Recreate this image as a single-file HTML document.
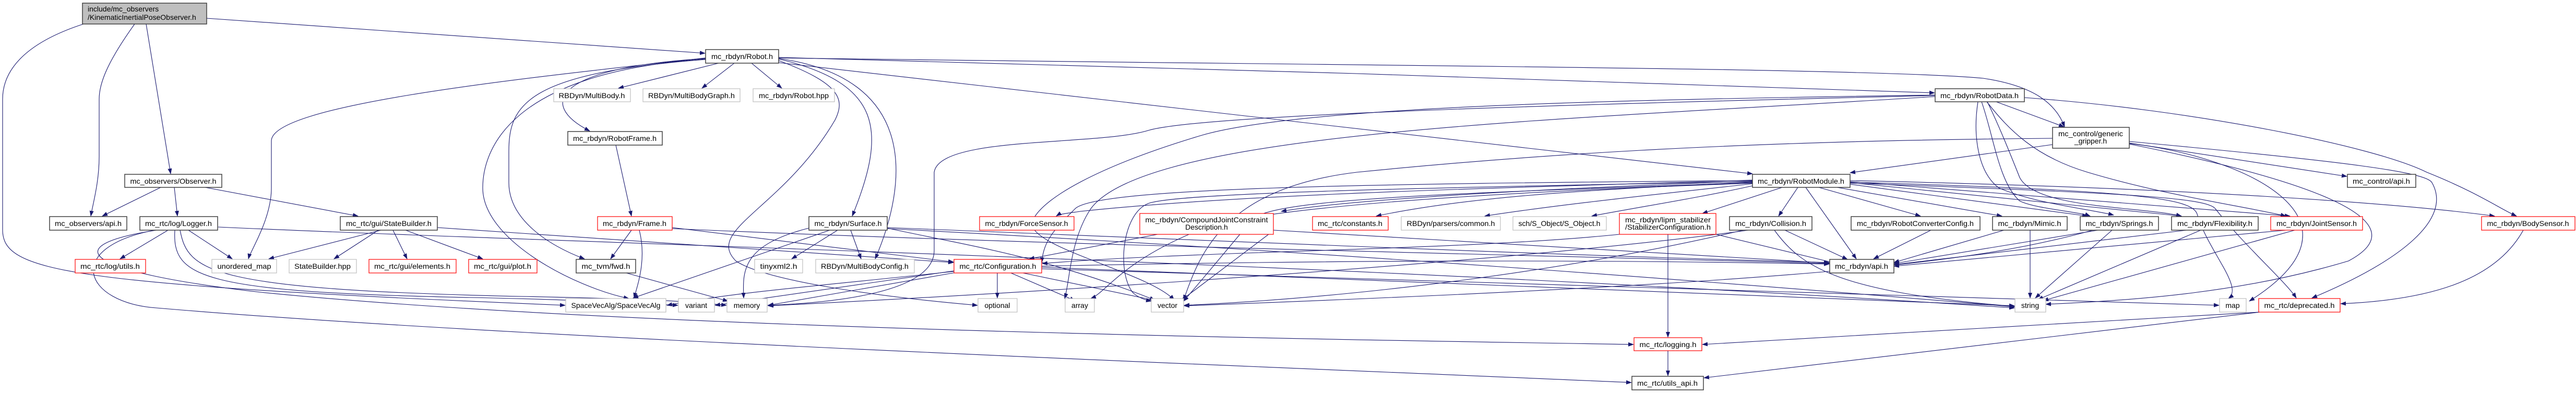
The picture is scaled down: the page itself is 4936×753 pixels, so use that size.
<!DOCTYPE html>
<html><head><meta charset="utf-8"><style>
html,body{margin:0;padding:0;background:#fff;}
svg{display:block;}
text{font-family:"Liberation Sans","DejaVu Sans",sans-serif;font-size:14px;fill:#000;}
.e{fill:none;stroke:#191970;stroke-width:1.1;}
.b{fill:#fff;stroke:#404040;stroke-width:1.5;}
.g{fill:#fff;stroke:#bfbfbf;stroke-width:1.2;}
.r{fill:#fff;stroke:#ff0000;stroke-width:1.2;}
</style></head><body>
<svg width="4936" height="753" viewBox="0 0 4936 753" xmlns="http://www.w3.org/2000/svg">
<defs><marker id="a" markerWidth="11" markerHeight="8" refX="10" refY="4" orient="auto" markerUnits="userSpaceOnUse"><path d="M0,0 L11,4 L0,8 z" fill="#191970"/></marker></defs>
<g class="e" marker-end="url(#a)">
<!-- main -->
<path d="M258,46 C205,120 190,160 190,190 L190,300 C190,350 178,390 174,414"/>
<path d="M280,46 L327,333"/>
<path d="M396,35 L1351,102"/>
<path d="M160,46 C40,85 5,140 5,190 L5,440 C5,520 120,545 1083,585"/>
<!-- observer -->
<path d="M308,359 L196,414"/>
<path d="M334,359 L340,414"/>
<path d="M393,359 L686,414"/>
<!-- logger -->
<path d="M322,441 L230,496"/>
<path d="M361,441 L445,496"/>
<path d="M345,441 C360,520 400,555 1000,568 C1200,572 1300,575 1392,585"/>
<path d="M335,441 C330,530 380,560 900,570 C1100,574 1200,580 1299,585"/>
<path d="M418,435 C1200,470 2500,500 3860,590"/>
<path d="M300,441 C110,470 150,520 500,560 C1200,630 2500,650 3130,660"/>
<path d="M296,441 C120,475 160,580 300,590 C1000,650 2500,705 3126,733"/>
<!-- statebuilder -->
<path d="M730,441 L515,496"/>
<path d="M725,441 L640,496"/>
<path d="M753,441 L780,496"/>
<path d="M777,441 L925,496"/>
<path d="M838,436 L1827,503"/>
<!-- robot.h -->
<path d="M1377,121 L1185,169"/>
<path d="M1407,121 L1345,169"/>
<path d="M1440,121 L1498,169"/>
<path d="M1352,112 C1060,130 1030,200 1130,251"/>
<path d="M1352,111 C1000,150 520,200 520,270 L520,360 C520,420 480,480 476,496"/>
<path d="M1352,114 C1010,140 975,200 975,290 L975,350 C975,420 1050,470 1120,496"/>
<path d="M1352,113 C960,140 925,300 925,360 C925,460 1100,550 1205,572"/>
<path d="M1492,113 C1690,160 1700,250 1633,414"/>
<path d="M1492,112 C1760,150 1740,350 1677,496"/>
<path d="M1492,116 C1610,160 1620,190 1600,230 C1500,400 1350,440 1410,500 C1470,540 1700,570 1873,585"/>
<path d="M1492,110 C2200,130 3000,150 3707,178"/>
<path d="M1492,111 C2500,125 3600,130 3800,150 C3900,165 3940,200 3956,243"/>
<path d="M1492,120 L3358,333"/>
<!-- robotframe/frame -->
<path d="M1180,278 L1210,414"/>
<path d="M1210,441 L1170,496"/>
<path d="M1225,441 C1240,500 1220,550 1215,571"/>
<path d="M1288,436 L1827,502"/>
<path d="M1288,438 C2000,470 3000,490 3505,505"/>
<path d="M1200,523 L1395,577"/>
<!-- surface -->
<path d="M1605,441 L1517,496"/>
<path d="M1630,441 L1650,496"/>
<path d="M1590,441 L1213,571"/>
<path d="M1550,437 C1420,470 1423,520 1425,571"/>
<path d="M1700,437 C1850,470 2000,490 2213,575"/>
<path d="M1700,436 C2300,460 3000,490 3505,503"/>
<path d="M1700,438 C2500,480 3300,540 3860,588"/>
<!-- configuration -->
<path d="M1911,523 L1911,571"/>
<path d="M1937,523 L2060,576"/>
<path d="M1960,523 L2215,576"/>
<path d="M1832,522 L1472,585"/>
<path d="M1828,519 L1370,585"/>
<path d="M1828,520 C1600,545 1400,560 1278,585"/>
<path d="M1996,512 C2800,540 3500,570 3860,586"/>
<path d="M1996,515 C3000,550 3800,570 4252,585"/>
<path d="M1996,510 C2700,495 3200,500 3505,506"/>
<!-- compound -->
<path d="M2218,449 L1972,496"/>
<path d="M2440,442 L2264,575"/>
<path d="M2440,441 C2900,470 3300,495 3505,504"/>
<!-- robotmodule -->
<path d="M3358,345 C2900,360 2400,370 2070,405 C2050,408 2030,410 2024,414"/>
<path d="M3358,347 C3000,360 2600,380 2455,405"/>
<path d="M3358,349 C3000,365 2800,380 2637,414"/>
<path d="M3358,352 C3200,370 3000,390 2845,414"/>
<path d="M3358,356 C3250,380 3150,395 3050,414"/>
<path d="M3415,359 L3262,409"/>
<path d="M3445,359 L3408,414"/>
<path d="M3460,359 L3557,496"/>
<path d="M3485,359 L3680,414"/>
<path d="M3520,359 L3836,414"/>
<path d="M3545,353 L4000,414"/>
<path d="M3545,350 L4180,414"/>
<path d="M3545,348 L4388,414"/>
<path d="M3545,346 C4200,360 4600,390 4780,414"/>
<path d="M3545,351 C4100,370 4230,380 4245,400 C4300,470 4380,540 4400,571"/>
<path d="M3545,349 C4100,365 4200,380 4210,410 C4230,480 4300,550 4270,572"/>
<path d="M3358,350 C2800,370 2440,380 2400,420 C2350,480 2300,540 2268,577"/>
<path d="M3358,351 C2800,370 2400,400 2300,440 C2150,500 2120,560 2090,572"/>
<path d="M3358,348 C2700,360 2250,370 2200,390 C2150,410 2140,520 2170,560 C2180,570 2195,575 2206,577"/>
<path d="M3358,346 C2600,352 2100,360 2060,400 C2020,440 2000,460 1996,503"/>
<!-- lipm -->
<path d="M3196,449 L3196,646"/>
<path d="M3288,449 L3520,505"/>
<path d="M3103,449 C2800,480 2300,480 1997,505"/>
<!-- collision -->
<path d="M3420,441 L3540,497"/>
<path d="M3400,441 C3450,510 3520,560 3860,587"/>
<path d="M3340,441 C3000,520 2600,570 2269,585"/>
<path d="M3350,441 C3000,490 2200,550 1472,586"/>
<!-- converter, mimic, springs, flex, joint -->
<path d="M3700,441 L3590,496"/>
<path d="M3890,441 L3890,571"/>
<path d="M3840,441 L3629,503"/>
<path d="M4047,441 L3900,571"/>
<path d="M4020,441 L3629,505"/>
<path d="M4010,441 C3800,500 3500,540 2269,586"/>
<path d="M4217,441 L3905,574"/>
<path d="M4190,441 L3629,507"/>
<path d="M4397,441 L3915,576"/>
<path d="M4380,441 L3629,510"/>
<path d="M4835,441 C4780,540 4650,575 4485,582"/>
<!-- robotdata -->
<path d="M3825,195 L3955,243"/>
<path d="M3797,195 C3820,260 3830,350 3870,385 C3900,400 3980,405 4005,414"/>
<path d="M3808,195 C3830,240 3850,290 3870,340 C3900,400 4100,395 4180,414"/>
<path d="M3790,195 C3780,260 3790,330 3830,360 C3900,390 4000,400 4050,412"/>
<path d="M3807,195 C3850,250 3900,300 4000,330 C4150,375 4300,395 4380,414"/>
<path d="M3879,187 C4200,210 4550,280 4650,330 C4750,370 4790,400 4822,414"/>
<path d="M3708,183 C3000,200 2300,220 2200,250 C2100,280 1800,260 1790,330 L1790,480 C1790,560 1600,580 1471,585"/>
<path d="M3708,182 C3200,190 2500,200 2300,260 C2100,320 2000,380 1980,420 C1950,470 2200,520 2250,575"/>
<path d="M3708,185 C3000,230 2200,250 2090,400 C2050,460 2050,540 2040,572"/>
<!-- gripper -->
<path d="M3933,277 L3545,331"/>
<path d="M4080,274 L4497,338"/>
<path d="M4080,275 C4300,300 4560,420 4310,577"/>
<path d="M4080,276 C4400,340 4650,420 4500,500 C4300,560 4100,575 3920,583"/>
<path d="M4080,271 C4500,310 4650,330 4660,350 C4700,420 4600,500 4430,571"/>
<path d="M3933,265 C3300,270 2900,300 2600,330 C2350,360 2300,480 2268,575"/>
<!-- deprecated / logging -->
<path d="M4330,598 L3262,660"/>
<path d="M4330,598 L3265,724"/>
<path d="M3196,672 L3196,720"/>
</g>
<!-- nodes -->
<g>
<rect x="158" y="6" width="238" height="40" fill="#bfbfbf" stroke="#404040" stroke-width="1.5"/>
<text x="168" y="22">include/mc_observers</text>
<text x="168" y="38">/KinematicInertialPoseObserver.h</text>

<rect class="b" x="1352" y="95" width="140" height="26"/><text x="1422" y="113" text-anchor="middle" textLength="118" lengthAdjust="spacingAndGlyphs">mc_rbdyn/Robot.h</text>

<rect class="g" x="1061" y="170" width="147" height="25"/><text x="1134" y="188" text-anchor="middle" textLength="127" lengthAdjust="spacingAndGlyphs">RBDyn/MultiBody.h</text>
<rect class="g" x="1232" y="170" width="186" height="25"/><text x="1325" y="188" text-anchor="middle" textLength="166" lengthAdjust="spacingAndGlyphs">RBDyn/MultiBodyGraph.h</text>
<rect class="g" x="1443" y="170" width="156" height="25"/><text x="1521" y="188" text-anchor="middle" textLength="134" lengthAdjust="spacingAndGlyphs">mc_rbdyn/Robot.hpp</text>
<rect class="b" x="3708" y="170" width="171" height="25"/><text x="3793" y="188" text-anchor="middle" textLength="150" lengthAdjust="spacingAndGlyphs">mc_rbdyn/RobotData.h</text>

<rect class="b" x="1088" y="252" width="181" height="26"/><text x="1178" y="270" text-anchor="middle" textLength="160" lengthAdjust="spacingAndGlyphs">mc_rbdyn/RobotFrame.h</text>
<rect class="b" x="3933" y="244" width="147" height="40"/><text x="4006" y="261" text-anchor="middle" textLength="124" lengthAdjust="spacingAndGlyphs">mc_control/generic</text><text x="4006" y="275" text-anchor="middle">_gripper.h</text>

<rect class="b" x="239" y="334" width="186" height="25"/><text x="332" y="352" text-anchor="middle" textLength="165" lengthAdjust="spacingAndGlyphs">mc_observers/Observer.h</text>
<rect class="b" x="3358" y="334" width="187" height="25"/><text x="3451" y="352" text-anchor="middle" textLength="166" lengthAdjust="spacingAndGlyphs">mc_rbdyn/RobotModule.h</text>
<rect class="b" x="4498" y="334" width="131" height="25"/><text x="4563" y="352" text-anchor="middle" textLength="110" lengthAdjust="spacingAndGlyphs">mc_control/api.h</text>

<rect class="b" x="95" y="415" width="148" height="26"/><text x="169" y="433" text-anchor="middle" textLength="128" lengthAdjust="spacingAndGlyphs">mc_observers/api.h</text>
<rect class="b" x="268" y="415" width="149" height="26"/><text x="342" y="433" text-anchor="middle" textLength="128" lengthAdjust="spacingAndGlyphs">mc_rtc/log/Logger.h</text>
<rect class="b" x="652" y="415" width="186" height="26"/><text x="745" y="433" text-anchor="middle" textLength="164" lengthAdjust="spacingAndGlyphs">mc_rtc/gui/StateBuilder.h</text>
<rect class="r" x="1145" y="415" width="143" height="26"/><text x="1216" y="433" text-anchor="middle" textLength="122" lengthAdjust="spacingAndGlyphs">mc_rbdyn/Frame.h</text>
<rect class="b" x="1550" y="415" width="150" height="26"/><text x="1625" y="433" text-anchor="middle" textLength="129" lengthAdjust="spacingAndGlyphs">mc_rbdyn/Surface.h</text>
<rect class="r" x="1877" y="415" width="181" height="26"/><text x="1967" y="433" text-anchor="middle" textLength="159" lengthAdjust="spacingAndGlyphs">mc_rbdyn/ForceSensor.h</text>
<rect class="r" x="2184" y="409" width="256" height="40"/><text x="2312" y="426" text-anchor="middle" textLength="235" lengthAdjust="spacingAndGlyphs">mc_rbdyn/CompoundJointConstraint</text><text x="2312" y="440" text-anchor="middle">Description.h</text>
<rect class="r" x="2515" y="415" width="145" height="26"/><text x="2587" y="433" text-anchor="middle" textLength="124" lengthAdjust="spacingAndGlyphs">mc_rtc/constants.h</text>
<rect class="g" x="2685" y="415" width="190" height="26"/><text x="2780" y="433" text-anchor="middle" textLength="169" lengthAdjust="spacingAndGlyphs">RBDyn/parsers/common.h</text>
<rect class="g" x="2899" y="415" width="179" height="26"/><text x="2988" y="433" text-anchor="middle" textLength="157" lengthAdjust="spacingAndGlyphs">sch/S_Object/S_Object.h</text>
<rect class="r" x="3103" y="409" width="185" height="40"/><text x="3196" y="426" text-anchor="middle" textLength="164" lengthAdjust="spacingAndGlyphs">mc_rbdyn/lipm_stabilizer</text><text x="3196" y="440" text-anchor="middle" textLength="164" lengthAdjust="spacingAndGlyphs">/StabilizerConfiguration.h</text>
<rect class="b" x="3314" y="415" width="158" height="26"/><text x="3393" y="433" text-anchor="middle" textLength="136" lengthAdjust="spacingAndGlyphs">mc_rbdyn/Collision.h</text>
<rect class="b" x="3547" y="415" width="247" height="26"/><text x="3670" y="433" text-anchor="middle" textLength="224" lengthAdjust="spacingAndGlyphs">mc_rbdyn/RobotConverterConfig.h</text>
<rect class="b" x="3818" y="415" width="143" height="26"/><text x="3889" y="433" text-anchor="middle" textLength="121" lengthAdjust="spacingAndGlyphs">mc_rbdyn/Mimic.h</text>
<rect class="b" x="3986" y="415" width="150" height="26"/><text x="4061" y="433" text-anchor="middle" textLength="129" lengthAdjust="spacingAndGlyphs">mc_rbdyn/Springs.h</text>
<rect class="b" x="4161" y="415" width="166" height="26"/><text x="4244" y="433" text-anchor="middle" textLength="144" lengthAdjust="spacingAndGlyphs">mc_rbdyn/Flexibility.h</text>
<rect class="r" x="4351" y="415" width="176" height="26"/><text x="4439" y="433" text-anchor="middle" textLength="154" lengthAdjust="spacingAndGlyphs">mc_rbdyn/JointSensor.h</text>
<rect class="r" x="4755" y="415" width="179" height="26"/><text x="4844" y="433" text-anchor="middle" textLength="157" lengthAdjust="spacingAndGlyphs">mc_rbdyn/BodySensor.h</text>

<rect class="r" x="144" y="497" width="135" height="26"/><text x="211" y="515" text-anchor="middle" textLength="114" lengthAdjust="spacingAndGlyphs">mc_rtc/log/utils.h</text>
<rect class="g" x="406" y="497" width="124" height="26"/><text x="468" y="515" text-anchor="middle" textLength="103" lengthAdjust="spacingAndGlyphs">unordered_map</text>
<rect class="g" x="554" y="497" width="129" height="26"/><text x="618" y="515" text-anchor="middle" textLength="108" lengthAdjust="spacingAndGlyphs">StateBuilder.hpp</text>
<rect class="r" x="707" y="497" width="167" height="26"/><text x="790" y="515" text-anchor="middle" textLength="146" lengthAdjust="spacingAndGlyphs">mc_rtc/gui/elements.h</text>
<rect class="r" x="898" y="497" width="131" height="26"/><text x="963" y="515" text-anchor="middle" textLength="110" lengthAdjust="spacingAndGlyphs">mc_rtc/gui/plot.h</text>
<rect class="b" x="1104" y="497" width="114" height="26"/><text x="1161" y="515" text-anchor="middle" textLength="93" lengthAdjust="spacingAndGlyphs">mc_tvm/fwd.h</text>
<rect class="g" x="1446" y="497" width="92" height="26"/><text x="1492" y="515" text-anchor="middle" textLength="71" lengthAdjust="spacingAndGlyphs">tinyxml2.h</text>
<rect class="g" x="1563" y="497" width="189" height="26"/><text x="1657" y="515" text-anchor="middle" textLength="168" lengthAdjust="spacingAndGlyphs">RBDyn/MultiBodyConfig.h</text>
<rect class="r" x="1828" y="497" width="168" height="26"/><text x="1912" y="515" text-anchor="middle" textLength="147" lengthAdjust="spacingAndGlyphs">mc_rtc/Configuration.h</text>
<rect class="b" x="3506" y="497" width="123" height="26"/><text x="3567" y="515" text-anchor="middle" textLength="102" lengthAdjust="spacingAndGlyphs">mc_rbdyn/api.h</text>

<rect class="g" x="1084" y="572" width="192" height="26"/><text x="1180" y="590" text-anchor="middle" textLength="171" lengthAdjust="spacingAndGlyphs">SpaceVecAlg/SpaceVecAlg</text>
<rect class="g" x="1300" y="572" width="69" height="26"/><text x="1334" y="590" text-anchor="middle">variant</text>
<rect class="g" x="1393" y="572" width="77" height="26"/><text x="1431" y="590" text-anchor="middle">memory</text>
<rect class="g" x="1874" y="572" width="75" height="26"/><text x="1911" y="590" text-anchor="middle">optional</text>
<rect class="g" x="2041" y="572" width="56" height="26"/><text x="2069" y="590" text-anchor="middle">array</text>
<rect class="g" x="2206" y="572" width="62" height="26"/><text x="2237" y="590" text-anchor="middle">vector</text>
<rect class="g" x="3861" y="572" width="59" height="26"/><text x="3890" y="590" text-anchor="middle">string</text>
<rect class="g" x="4253" y="572" width="51" height="26"/><text x="4278" y="590" text-anchor="middle">map</text>
<rect class="r" x="4328" y="572" width="156" height="26"/><text x="4406" y="590" text-anchor="middle" textLength="135" lengthAdjust="spacingAndGlyphs">mc_rtc/deprecated.h</text>

<rect class="r" x="3131" y="647" width="130" height="25"/><text x="3196" y="665" text-anchor="middle" textLength="109" lengthAdjust="spacingAndGlyphs">mc_rtc/logging.h</text>
<rect class="b" x="3127" y="721" width="137" height="26"/><text x="3195" y="739" text-anchor="middle" textLength="116" lengthAdjust="spacingAndGlyphs">mc_rtc/utils_api.h</text>
</g>
</svg>
</body></html>
